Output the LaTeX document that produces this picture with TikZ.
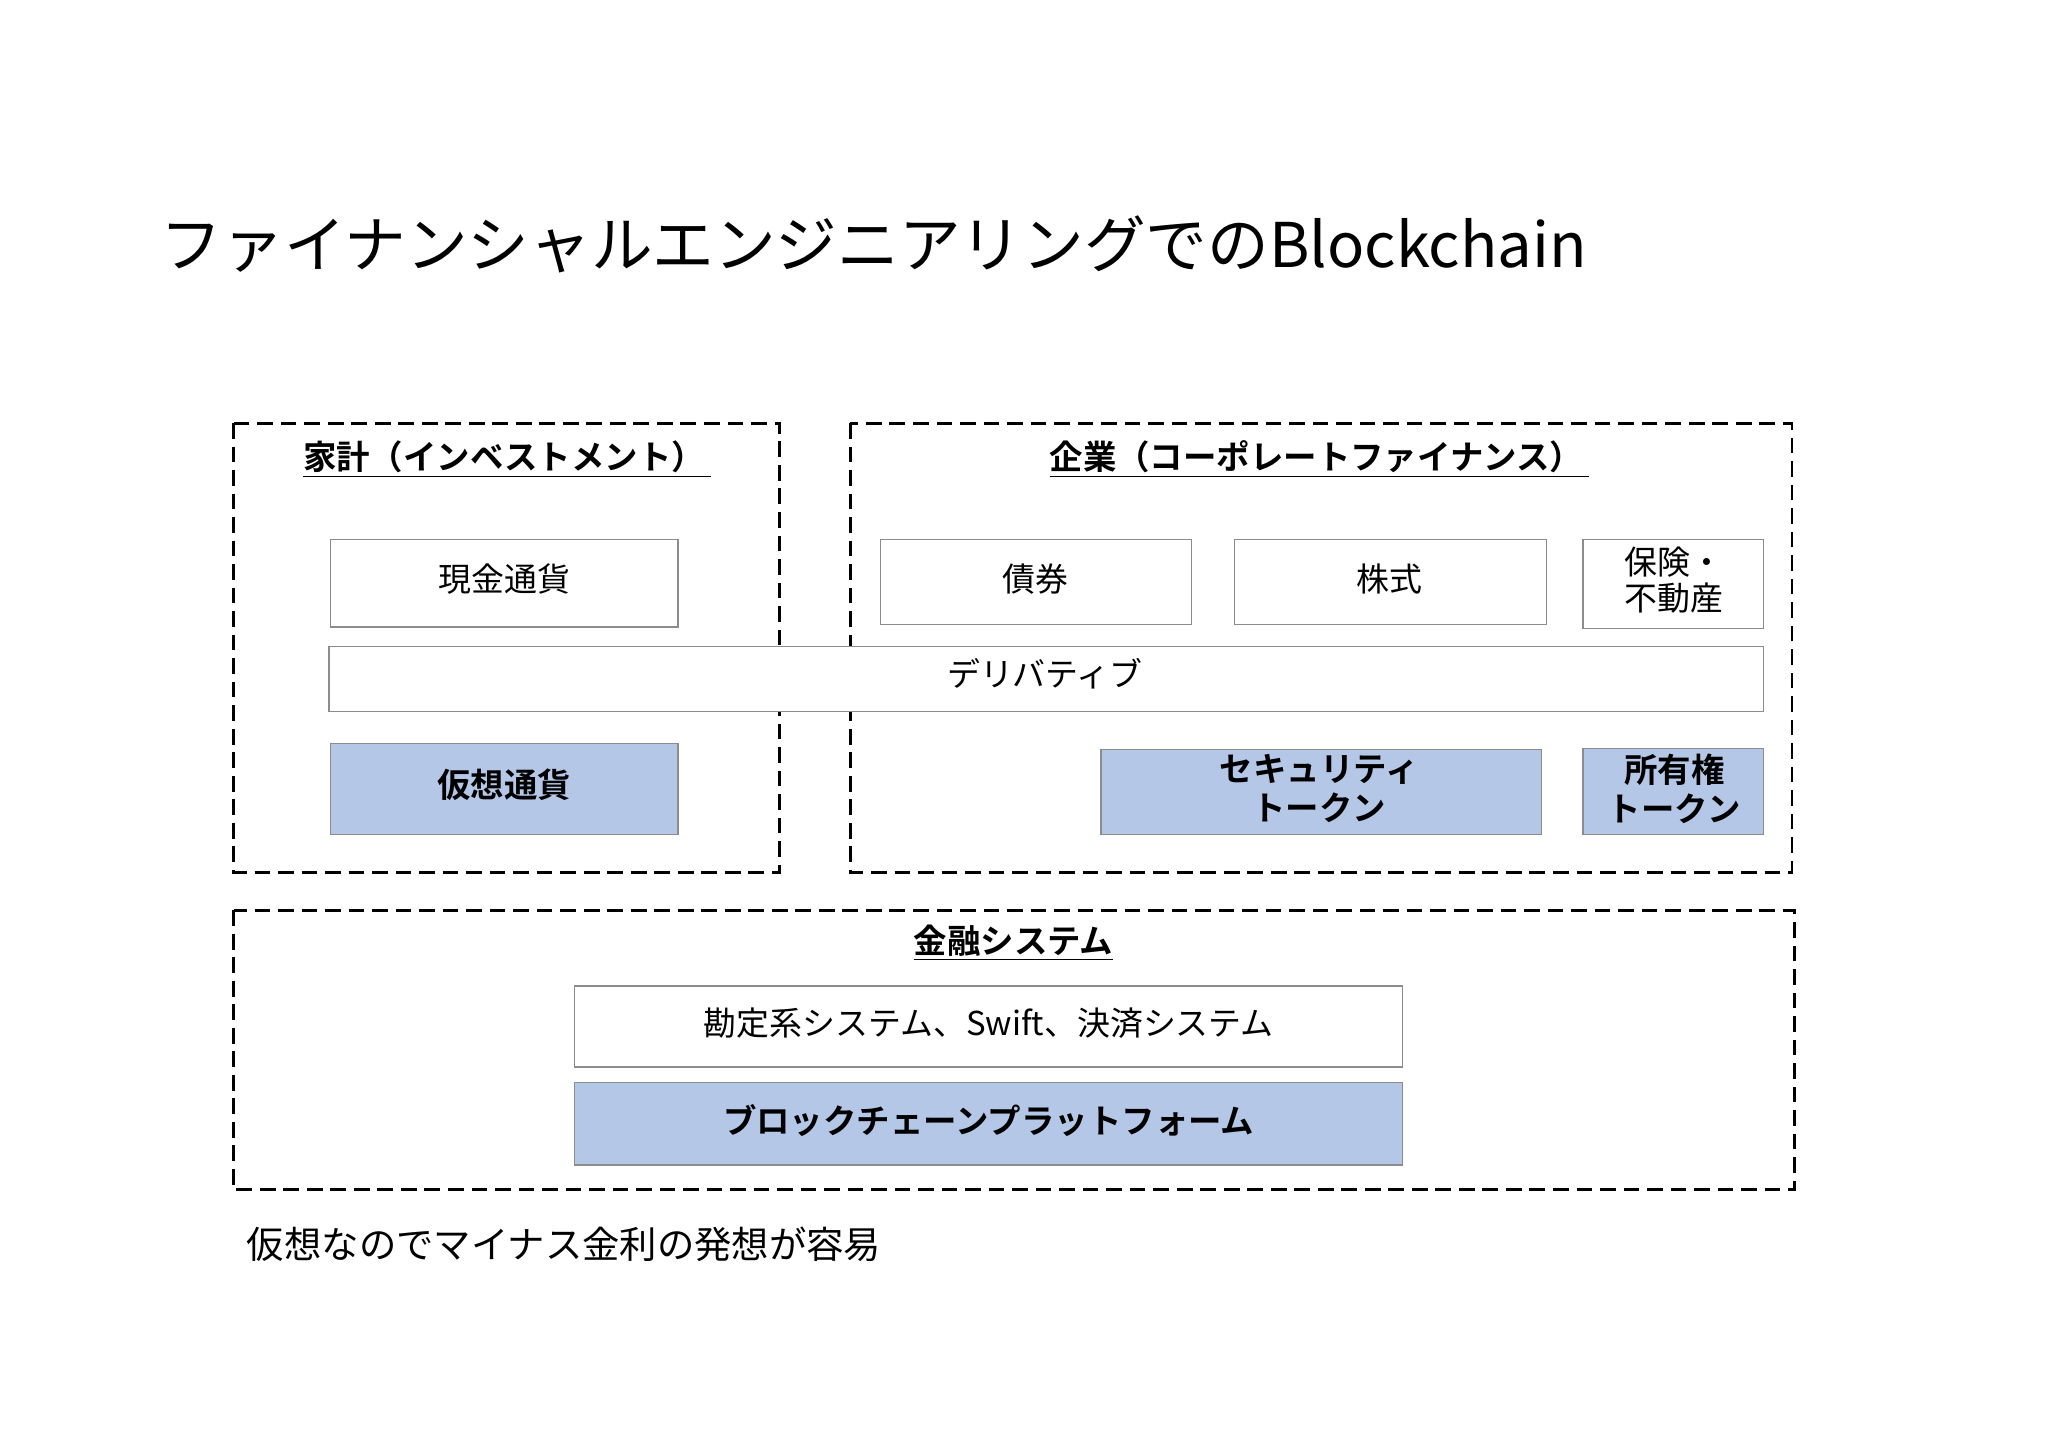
\documentclass[tikz,border=0pt]{standalone}
\usepackage{fontspec}
\setmainfont{Noto Sans CJK JP}[BoldFont={Noto Sans CJK JP Bold}]
\begin{document}
\begin{tikzpicture}[x=0.5pt,y=-0.5pt,
  dbox/.style={draw=black,line width=1.1pt,dash pattern=on 6pt off 3pt},
  wbox/.style={draw=black!45,line width=0.5pt,fill=white},
  txt/.style={font=\fontsize{12.6}{14}\selectfont},
  btxt/.style={font=\fontsize{12.8}{15}\selectfont\bfseries,align=center},
  hd/.style={font=\fontsize{12.8}{15}\selectfont\bfseries}]
\definecolor{lb}{HTML}{B4C7E7}
\useasboundingbox (0,0) rectangle (1568,1108);
\fill[white] (0,0) rectangle (1568,1108);
\node[anchor=west,font=\fontsize{23.6}{28}\selectfont] (title) at (116,187) {ファイナンシャルエンジニアリングでのBlockchain};
\draw[dbox] (179,324) rectangle (597,668);
\draw[dbox] (651,324) rectangle (1372,668);
\draw[dbox] (179,697) rectangle (1374,911);
\node[hd] (h1) at (388,352) {\underline{家計（インベストメント）\,}};
\node[hd] (h2) at (1010,352) {\underline{企業（コーポレートファイナンス）\,}};
\node[hd] (h3) at (776,722) {\underline{金融システム}};
\draw[wbox] (252,495) rectangle (1350,545);
\node[txt] (der) at (800,516) {デリバティブ};
\draw[wbox] (253,413) rectangle (519,480); \node[txt] (g) at (386,443) {現金通貨};
\draw[wbox] (674,413) rectangle (912,478); \node[txt] (s) at (793,443) {債券};
\draw[wbox] (945,413) rectangle (1184,478); \node[txt] (k) at (1064,443) {株式};
\draw[wbox] (1212,413) rectangle (1350,481); \node[txt,align=left,anchor=west] (h) at (1237,444) {保険・\\不動産};
\draw[wbox,fill=lb] (253,569) rectangle (519,639); \node[btxt] (v) at (386,601) {仮想通貨};
\draw[wbox,fill=lb] (843,574) rectangle (1180,639); \node[btxt] (st) at (1010,604) {セキュリティ\\トークン};
\draw[wbox,fill=lb] (1212,573) rectangle (1350,639); \node[btxt] (ot) at (1282,604) {所有権\\トークン};
\draw[wbox] (440,755) rectangle (1074,817); \node[txt] (ka) at (757,783) {勘定系システム、Swift、決済システム};
\draw[wbox,fill=lb] (440,829) rectangle (1074,892); \node[btxt] (bc) at (757,858) {ブロックチェーンプラットフォーム};
\node[anchor=west,font=\fontsize{14.3}{16}\selectfont] (ft) at (182,953) {仮想なのでマイナス金利の発想が容易};
\end{tikzpicture}
\end{document}
